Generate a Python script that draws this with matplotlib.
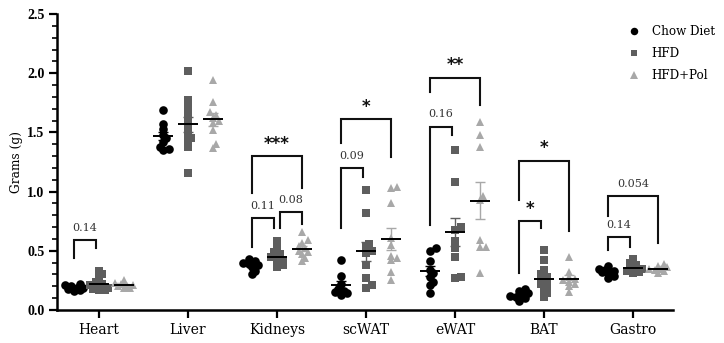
import numpy as np
import matplotlib
matplotlib.use("Agg")
import matplotlib.pyplot as plt
from matplotlib.ticker import MultipleLocator, FormatStrFormatter

# Tissue weights (g) per group
tissues = ["Heart", "Liver", "Kidneys", "scWAT", "eWAT", "BAT", "Gastro"]
groups = ["Chow Diet", "HFD", "HFD+Pol"]

chow = {
    "Heart":   [0.16, 0.17, 0.18, 0.19, 0.19, 0.20, 0.21, 0.22],
    "Liver":   [1.35, 1.36, 1.38, 1.42, 1.45, 1.48, 1.53, 1.57, 1.69],
    "Kidneys": [0.30, 0.33, 0.36, 0.38, 0.39, 0.40, 0.41, 0.43],
    "scWAT":   [0.13, 0.14, 0.15, 0.16, 0.18, 0.22, 0.29, 0.42],
    "eWAT":    [0.14, 0.21, 0.24, 0.28, 0.31, 0.34, 0.41, 0.50, 0.52],
    "BAT":     [0.08, 0.10, 0.11, 0.12, 0.13, 0.14, 0.16, 0.18],
    "Gastro":  [0.27, 0.29, 0.31, 0.32, 0.33, 0.34, 0.35, 0.37],
}
hfd = {
    "Heart":   [0.17, 0.17, 0.18, 0.18, 0.19, 0.20, 0.21, 0.22, 0.24, 0.27, 0.30, 0.33],
    "Liver":   [1.16, 1.38, 1.42, 1.45, 1.48, 1.52, 1.58, 1.63, 1.68, 1.72, 1.77, 2.02],
    "Kidneys": [0.36, 0.38, 0.40, 0.42, 0.44, 0.45, 0.47, 0.49, 0.52, 0.58],
    "scWAT":   [0.19, 0.21, 0.27, 0.38, 0.48, 0.50, 0.53, 0.56, 0.82, 1.01],
    "eWAT":    [0.27, 0.28, 0.45, 0.52, 0.58, 0.68, 0.70, 1.08, 1.35],
    "BAT":     [0.11, 0.14, 0.17, 0.20, 0.22, 0.24, 0.26, 0.28, 0.30, 0.34, 0.42, 0.51],
    "Gastro":  [0.31, 0.32, 0.33, 0.34, 0.35, 0.36, 0.38, 0.40, 0.43],
}
hfd_pol = {
    "Heart":   [0.19, 0.19, 0.20, 0.20, 0.21, 0.22, 0.23, 0.25],
    "Liver":   [1.37, 1.40, 1.52, 1.58, 1.60, 1.62, 1.65, 1.67, 1.76, 1.94],
    "Kidneys": [0.41, 0.44, 0.47, 0.49, 0.50, 0.52, 0.54, 0.57, 0.59, 0.66],
    "scWAT":   [0.25, 0.32, 0.42, 0.44, 0.46, 0.55, 0.61, 0.90, 1.03, 1.04],
    "eWAT":    [0.31, 0.53, 0.53, 0.59, 0.93, 0.96, 1.38, 1.48, 1.59],
    "BAT":     [0.15, 0.20, 0.22, 0.24, 0.25, 0.26, 0.28, 0.32, 0.45],
    "Gastro":  [0.31, 0.33, 0.34, 0.35, 0.35, 0.36, 0.37, 0.39],
}

# Comparison brackets: tissue, group a, group b, bracket top, leg a end, leg b end, label
brackets = [
    ("Heart",   0, 1, 0.59, 0.44, 0.52, "0.14"),
    ("Kidneys", 0, 1, 0.78, 0.53, 0.69, "0.11"),
    ("Kidneys", 1, 2, 0.83, 0.69, 0.73, "0.08"),
    ("Kidneys", 0, 2, 1.30, 0.99, 1.03, "***"),
    ("scWAT",   0, 1, 1.20, 0.69, 1.12, "0.09"),
    ("scWAT",   0, 2, 1.61, 1.41, 1.29, "*"),
    ("eWAT",    0, 1, 1.55, 0.72, 1.48, "0.16"),
    ("eWAT",    0, 2, 1.96, 1.84, 1.73, "**"),
    ("BAT",     0, 1, 0.75, 0.31, 0.69, "*"),
    ("BAT",     0, 2, 1.26, 0.93, 0.67, "*"),
    ("Gastro",  0, 1, 0.62, 0.51, 0.53, "0.14"),
    ("Gastro",  0, 2, 0.96, 0.79, 0.57, "0.054"),
]

series = [chow, hfd, hfd_pol]
colors = ["#000000", "#5e5e5e", "#a8a8a8"]
markers = ["o", "s", "^"]
msizes = [6.2, 5.6, 6.2]
offsets = [-0.28, 0.0, 0.28]

TXT = "DejaVu Serif"

fig = plt.figure(figsize=(7.24, 3.43), dpi=100)
ax = fig.add_axes([0.0787, 0.0962, 0.8509, 0.8628])
ax.set_xlim(-0.47, 6.45)
ax.set_ylim(0, 2.5)

# pixel scale for swarm layout
px_x = 0.8509 * 724 / (6.45 + 0.47)
px_y = 0.8628 * 343 / 2.5


def swarm(vals, gap=4.5, step=3.0, kmax=3):
    """Compact beeswarm: return x offsets (data units) for each value."""
    order = np.argsort(vals)
    placed = []
    xs = np.zeros(len(vals))
    for i in order:
        yp = vals[i] * px_y
        cands = [0.0]
        for k in range(1, kmax + 1):
            cands += [k * step, -k * step]
        best = cands[0]
        best_d = -1.0
        for c in cands:
            dmin = min([np.hypot(px - c, py - yp) for (px, py) in placed],
                       default=1e9)
            if dmin >= gap:
                best = c
                break
            if dmin > best_d:
                best_d = dmin
                best = c
        placed.append((best, yp))
        xs[i] = best / px_x
    return xs


for gi, data in enumerate(series):
    for ti, t in enumerate(tissues):
        vals = np.array(data[t])
        xc = ti + offsets[gi]
        dx = swarm(vals)
        ax.plot(xc + dx, vals, linestyle="none", marker=markers[gi],
                ms=msizes[gi], color=colors[gi], markeredgewidth=0,
                zorder=3)
        m = vals.mean()
        sem = vals.std(ddof=1) / np.sqrt(len(vals))
        ax.errorbar([xc], [m], yerr=[sem], fmt="none", ecolor=colors[gi],
                    elinewidth=1.0, capsize=3.5, capthick=1.0, zorder=4)
        ax.plot([xc - 0.11, xc + 0.11], [m, m], color="black", lw=1.4,
                zorder=5, solid_capstyle="butt")

# significance brackets
for t, a, b, top, ya, yb, lab in brackets:
    ti = tissues.index(t)
    xa = ti + offsets[a]
    xb = ti + offsets[b]
    if b == 1:
        xb -= 0.03
    if a == 1:
        xa += 0.03
    ax.plot([xa, xa, xb, xb], [ya, top, top, yb], color="#111111",
            lw=1.5, zorder=2, solid_joinstyle="miter")
    xm = (xa + xb) / 2
    if lab.startswith("*"):
        ax.text(xm, top + 0.03, lab, ha="center", va="bottom",
                fontsize=12, fontweight="bold", family="DejaVu Sans",
                color="#111111")
    else:
        ax.text(xm, top + 0.06, lab, ha="center", va="bottom",
                fontsize=8, family=TXT, color="#333333")

# axes styling
for s in ["top", "right"]:
    ax.spines[s].set_visible(False)
for s in ["left", "bottom"]:
    ax.spines[s].set_linewidth(1.8)
ax.set_xticks(range(len(tissues)))
ax.set_xticklabels(tissues, family=TXT, fontsize=10)
ax.yaxis.set_major_locator(MultipleLocator(0.5))
ax.yaxis.set_minor_locator(MultipleLocator(0.1))
ax.yaxis.set_major_formatter(FormatStrFormatter("%.1f"))
ax.tick_params(axis="both", which="major", direction="out", length=6,
               width=1.6, pad=3)
ax.tick_params(axis="y", which="minor", direction="out", length=3.5,
               width=1.2)
for lbl in ax.get_yticklabels():
    lbl.set_family("Liberation Serif")
    lbl.set_fontweight("bold")
    lbl.set_fontsize(10)
ax.set_ylabel("Grams (g)", family=TXT, fontsize=8.7, labelpad=3)

handles = [plt.Line2D([], [], linestyle="none", marker=markers[i],
                      ms=msizes[i] - 0.8, color=colors[i], markeredgewidth=0)
           for i in range(3)]
leg = ax.legend(handles, groups, loc="upper right",
                bbox_to_anchor=(1.085, 1.0), frameon=False,
                prop={"family": TXT, "size": 8.6}, handletextpad=0.9,
                labelspacing=0.75, handlelength=1.2)

fig.savefig("out.png", dpi=100)
